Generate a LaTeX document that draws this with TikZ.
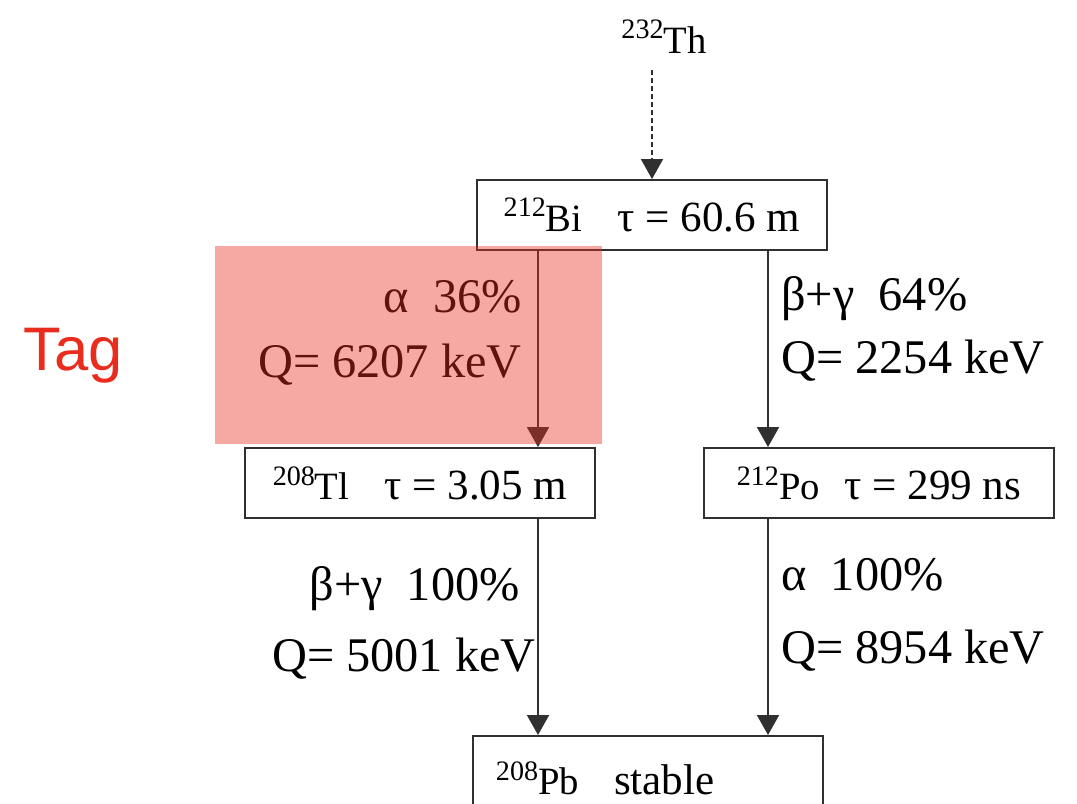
\documentclass[tikz,border=0pt]{standalone}
\usepackage{fontspec}
\setmainfont{Liberation Serif}
\newfontfamily\tagfont{Liberation Sans}
\usetikzlibrary{arrows.meta}
\definecolor{tagred}{HTML}{EA2C1E}
\definecolor{boxgray}{HTML}{303030}
\newcommand{\iso}[2]{\raisebox{8pt}{\fontsize{16}{16}\selectfont #1}{\fontsize{22}{22}\selectfont #2}}

\begin{document}
\begin{tikzpicture}[x=0.2mm,y=-0.2mm,
    nuc/.style={draw=boxgray,line width=1.1pt,inner sep=0pt,minimum width=7cm,minimum height=1.4cm,font=\fontsize{24.5}{28}\selectfont},
    lbl/.style={inner sep=0pt,font=\fontsize{27.5}{30}\selectfont},
    decay/.style={line width=1pt,draw=boxgray,-{Triangle[width=0.44cm,length=0.4cm]}}]
  \useasboundingbox (0,0) rectangle (1077,803);
  \node[inner sep=0pt,anchor=base] (th) at (664,53) {\iso{232}{Th}};
  \node[nuc] (bi) at (652,215) {\iso{212}{Bi}\hspace{20pt}τ = 60.6 m};
  \node[nuc] (tl) at (420,483) {\iso{208}{Tl}\hspace{20pt}τ = 3.05 m};
  \node[nuc] (po) at (879,483) {\iso{212}{Po}\hspace{14pt}τ = 299 ns};
  \node[nuc,anchor=north west,minimum height=1.7cm,inner xsep=0.46cm,text width=6.08cm,align=left] (pb) at (472,735) {\iso{208}{Pb}\hspace{20pt}stable};
  \coordinate (lx) at (538,0);
  \coordinate (rx) at (768,0);
  \draw[decay,dash pattern=on 0.1cm off 0.06cm] (bi.north |- 0,70) -- (bi.north);
  \draw[decay] (bi.south -| lx) -- (tl.north -| lx);
  \draw[decay] (bi.south -| rx) -- (po.north -| rx);
  \draw[decay] (tl.south -| lx) -- (pb.north -| lx);
  \draw[decay] (po.south -| rx) -- (pb.north -| rx);
  \node[lbl,anchor=base east] (a36) at (522,312) {α\ \ 36\%};
  \node[lbl,anchor=base east] (q6207) at (522,377) {Q= 6207 keV};
  \node[lbl,anchor=base west] (b64) at (781,310) {β+γ\ \ 64\%};
  \node[lbl,anchor=base west] (q2254) at (781,373) {Q= 2254 keV};
  \node[lbl,anchor=base east] (b100) at (520,600) {β+γ\ \ 100\%};
  \node[lbl,anchor=base east] (q5001) at (536,671) {Q= 5001 keV};
  \node[lbl,anchor=base west] (a100) at (781,590) {α\ \ 100\%};
  \node[lbl,anchor=base west] (q8954) at (781,663) {Q= 8954 keV};
  \fill[tagred,fill opacity=0.41] (215,246) rectangle (602,444);
  \node[inner sep=0pt,anchor=base west,text=tagred,font=\tagfont\fontsize{35}{40}\selectfont] (tag) at (23,370) {Tag};
\end{tikzpicture}
\end{document}
